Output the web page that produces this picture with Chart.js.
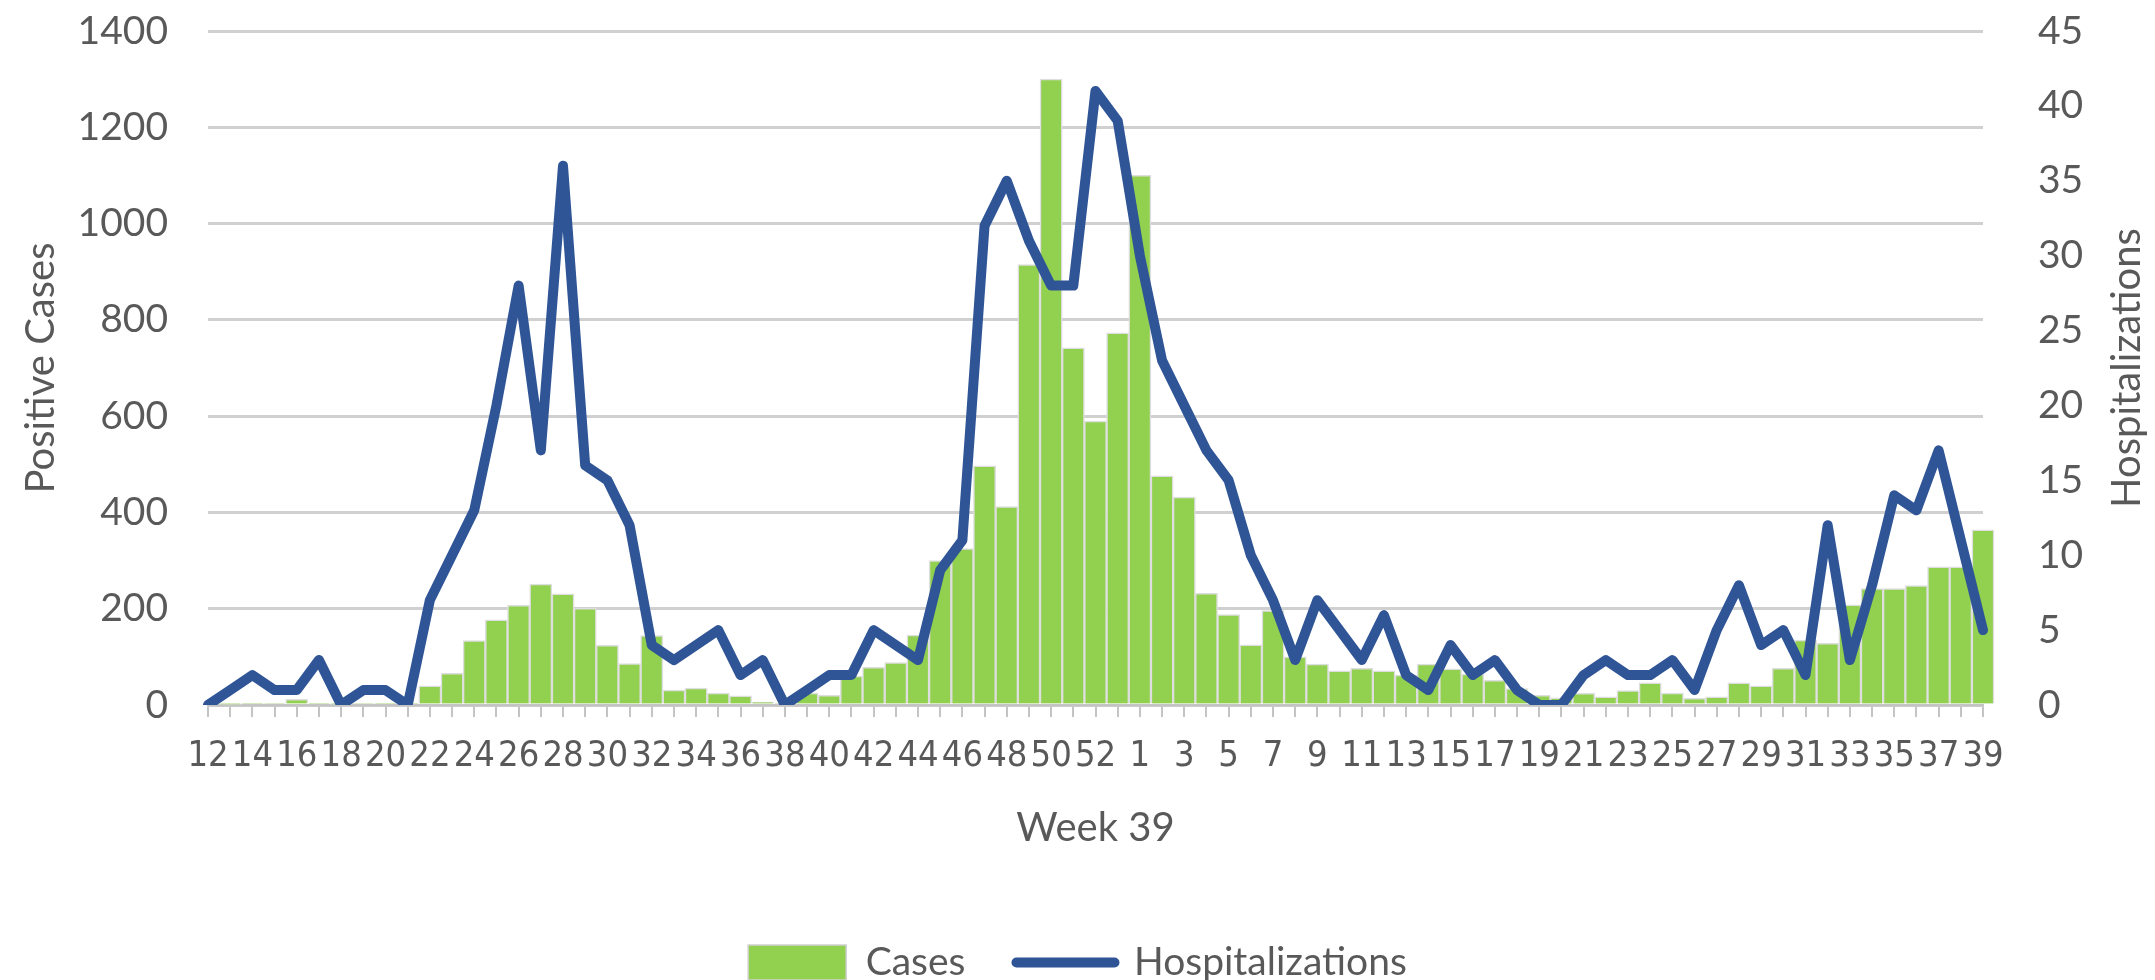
<!DOCTYPE html>
<html>
<head>
<meta charset="utf-8">
<title>Positive Cases and Hospitalizations by Week</title>
<script src="https://cdn.jsdelivr.net/npm/chart.js"></script>
<style>
  body { margin: 0; overflow: hidden; background: #fff; }
  #wrap { width: 2155px; height: 992px; }
</style>
</head>
<body>
<div id="wrap"><canvas id="myChart" width="2155" height="992"></canvas></div>
<script>
// weeks 12..53 of 2020, then 1..39 of 2021
var weeks = [12, 13, 14, 15, 16, 17, 18, 19, 20, 21, 22, 23, 24, 25, 26, 27, 28, 29, 30, 31,
    32, 33, 34, 35, 36, 37, 38, 39, 40, 41, 42, 43, 44, 45, 46, 47, 48, 49, 50, 51, 52, 53,
    1, 2, 3, 4, 5, 6, 7, 8, 9, 10, 11, 12, 13, 14, 15, 16, 17, 18, 19, 20,
    21, 22, 23, 24, 25, 26, 27, 28, 29, 30, 31, 32, 33, 34, 35, 36, 37, 38, 39]

var cases = [0, 1, 2, 3, 12, 2, 1, 3, 4, 2, 40, 66, 134, 177, 207, 251, 231, 201, 124, 86,
    144, 31, 35, 25, 19, 6, 3, 25, 20, 60, 78, 88, 145, 300, 325, 497, 412, 915, 1300, 742, 590, 773,
    1100, 476, 432, 232, 188, 125, 196, 100, 85, 71, 76, 71, 62, 85, 75, 64, 51, 34, 20, 15,
    24, 17, 30, 46, 25, 14, 17, 46, 40, 76, 135, 128, 208, 242, 242, 248, 287, 287, 364]

var hospitalizations = [0, 1, 2, 1, 1, 3, 0, 1, 1, 0, 7, 10, 13, 20, 28, 17, 36, 16, 15, 12,
    4, 3, 4, 5, 2, 3, 0, 1, 2, 2, 5, 4, 3, 9, 11, 32, 35, 31, 28, 28, 41, 39,
    30, 23, 20, 17, 15, 10, 7, 3, 7, 5, 3, 6, 2, 1, 4, 2, 3, 1, 0, 0,
    2, 3, 2, 2, 3, 1, 5, 8, 4, 5, 2, 12, 3, 8, 14, 13, 17, 11, 5]

var textGray = '#595959'
var lineBlue = '#2F5597'
var narrow = "'Liberation Sans Narrow', 'Arial Narrow', 'DejaVu Sans Condensed', Lato, sans-serif"

// chart.js puts a right axis title top-to-bottom, the original reads bottom-to-top
var rightTitle = {
    id: 'rightTitle',
    afterDraw: function(chart) {
        var ctx = chart.ctx
        var area = chart.chartArea
        ctx.save()
        ctx.translate(chart.scales.y1.right - 28, (area.top + area.bottom) / 2)
        ctx.rotate(-Math.PI / 2)
        ctx.font = '40px Lato'
        ctx.fillStyle = textGray
        ctx.textAlign = 'center'
        ctx.textBaseline = 'middle'
        ctx.fillText('Hospitalizations', 0, 0)
        ctx.restore()
    }
}

var ctx = document.getElementById('myChart')
var myChart = new Chart(ctx, {
    type: 'bar',
    data: {
        labels: weeks,
        datasets: [{
            label: 'Cases',
            data: cases,
            backgroundColor: '#92D050',
            borderColor: '#dedede',
            borderWidth: 1.5,
            barPercentage: 1,
            categoryPercentage: 1,
            clip: false,
            yAxisID: 'y',
            order: 1
        }, {
            type: 'line',
            label: 'Hospitalizations',
            data: hospitalizations,
            borderColor: lineBlue,
            backgroundColor: lineBlue,
            borderWidth: 10,
            borderCapStyle: 'round',
            borderJoinStyle: 'round',
            pointRadius: 0,
            tension: 0,
            fill: false,
            yAxisID: 'y1',
            order: 0
        }]
    },
    options: {
        responsive: false,
        animation: false,
        events: [],
        layout: { padding: { top: 31, left: 0, right: 0, bottom: 0 } },
        plugins: {
            tooltip: { enabled: false },
            legend: {
                position: 'bottom',
                labels: {
                    usePointStyle: true,
                    pointStyleWidth: 98,
                    boxHeight: 35,
                    padding: 51,
                    color: textGray,
                    font: { family: 'Lato', size: 39 },
                    generateLabels: function(chart) {
                        var items = Chart.defaults.plugins.legend.labels.generateLabels(chart)
                        items.sort(function(a, b) { return a.datasetIndex - b.datasetIndex })
                        items.forEach(function(it) {
                            if (it.datasetIndex === 0) {
                                it.pointStyle = 'rect'
                                it.lineWidth = 1.5
                                it.strokeStyle = '#cfcfcf'
                            } else {
                                it.pointStyle = 'line'
                                it.lineWidth = 10
                                it.strokeStyle = lineBlue
                                it.lineCap = 'round'
                            }
                        })
                        return items
                    }
                }
            }
        },
        scales: {
            x: {
                offset: false,
                grid: { offset: false, drawOnChartArea: false, drawTicks: true, tickLength: 12, color: '#c4c4c4', lineWidth: 2 },
                border: { display: true, color: '#c4c4c4', width: 2.5 },
                ticks: {
                    autoSkip: false,
                    maxRotation: 0,
                    minRotation: 0,
                    padding: 18,
                    color: textGray,
                    font: { family: narrow, size: 36 },
                    callback: function(v, i) { return i % 2 === 0 ? String(weeks[i]) : '' }
                },
                title: {
                    display: true,
                    text: 'Week 39',
                    color: textGray,
                    font: { family: 'Lato', size: 40 },
                    padding: { top: 0, bottom: 40 }
                },
                afterFit: function(s) { s.height = 187 }
            },
            y: {
                position: 'left',
                min: 0,
                max: 1400,
                ticks: {
                    stepSize: 200, padding: 4, color: textGray, font: { family: 'Lato', size: 39 },
                    callback: function(v) { return String(v) }
                },
                // invisible tick marks push the labels away from the plot
                grid: { color: '#d0d0d0', lineWidth: 3, drawTicks: true, tickLength: 36, tickColor: 'rgba(0,0,0,0)' },
                border: { display: false },
                title: {
                    display: true,
                    text: 'Positive Cases',
                    color: textGray,
                    font: { family: 'Lato', size: 40 },
                    padding: { top: 17, bottom: 0 }
                },
                afterFit: function(s) { s.width = 208 }
            },
            y1: {
                position: 'right',
                min: 0,
                max: 45,
                ticks: {
                    stepSize: 5, padding: 4, color: textGray, font: { family: 'Lato', size: 39 },
                    callback: function(v) { return String(v) }
                },
                grid: { drawOnChartArea: false, drawTicks: true, tickLength: 51, tickColor: 'rgba(0,0,0,0)' },
                border: { display: false },
                afterFit: function(s) { s.width = 172 }
            }
        }
    },
    plugins: [rightTitle]
})
</script>
</body>
</html>
